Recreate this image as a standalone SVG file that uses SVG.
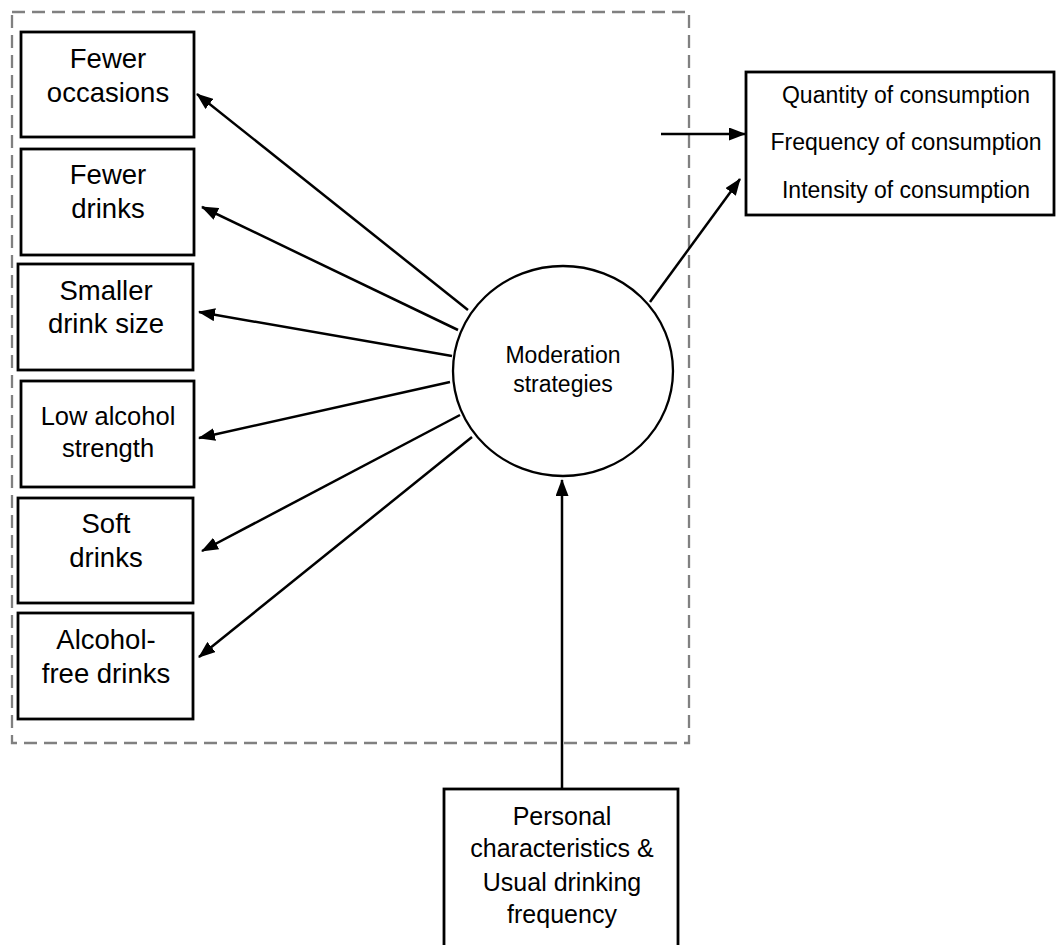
<svg xmlns="http://www.w3.org/2000/svg" width="1056" height="945" viewBox="0 0 1056 945">
<style>
.box{fill:#fff;stroke:#000;stroke-width:2.8}
.t{font-family:"Liberation Sans",Arial,sans-serif;fill:#000;text-anchor:middle}
.c{stroke:#000;stroke-width:2.5;fill:none;marker-end:url(#ah)}
</style>
<defs>
<marker id="ah" markerUnits="userSpaceOnUse" markerWidth="17" markerHeight="13" refX="16" refY="6.5" orient="auto">
<path d="M0,0 L17,6.5 L0,13 z" fill="#000"/>
</marker>
</defs>
<rect x="0" y="0" width="1056" height="945" fill="#fff"/>
<rect id="group-frame" x="12" y="12" width="677" height="731" fill="none" stroke="#808080" stroke-width="2.3" stroke-dasharray="13 7"/>
<g id="n-fewer-occasions"><rect class="box" x="21" y="32" width="173" height="105"/><text class="t" font-size="27.5" x="108" y="68">Fewer</text><text class="t" font-size="27.5" x="108" y="102">occasions</text></g>
<g id="n-fewer-drinks"><rect class="box" x="21" y="149" width="173" height="106"/><text class="t" font-size="27.5" x="108" y="184">Fewer</text><text class="t" font-size="27.5" x="108" y="218">drinks</text></g>
<g id="n-smaller"><rect class="box" x="18" y="264" width="175" height="106"/><text class="t" font-size="27.5" x="106" y="300">Smaller</text><text class="t" font-size="27.5" x="106" y="333">drink size</text></g>
<g id="n-low-alcohol"><rect class="box" x="21" y="381" width="173" height="106"/><text class="t" font-size="25.5" x="108" y="425">Low alcohol</text><text class="t" font-size="25.5" x="108" y="457">strength</text></g>
<g id="n-soft"><rect class="box" x="18" y="498" width="175" height="105"/><text class="t" font-size="27.5" x="106" y="533">Soft</text><text class="t" font-size="27.5" x="106" y="567">drinks</text></g>
<g id="n-alcohol-free"><rect class="box" x="18" y="613" width="175" height="106"/><text class="t" font-size="27.5" x="106" y="649">Alcohol-</text><text class="t" font-size="27.5" x="106" y="683">free drinks</text></g>
<g id="n-moderation"><ellipse cx="563" cy="371" rx="110" ry="105" fill="#fff" stroke="#000" stroke-width="2.3"/><text class="t" font-size="23" x="563" y="363">Moderation</text><text class="t" font-size="23" x="563" y="392">strategies</text></g>
<g id="n-consumption"><rect class="box" x="746" y="72" width="308" height="143"/><text class="t" font-size="23" x="906" y="103">Quantity of consumption</text><text class="t" font-size="23" x="906" y="150">Frequency of consumption</text><text class="t" font-size="23" x="906" y="198">Intensity of consumption</text></g>
<g id="n-personal"><rect class="box" x="444" y="789" width="234" height="170"/><text class="t" font-size="25" x="562" y="825">Personal</text><text class="t" font-size="25" x="562" y="857">characteristics &amp;</text><text class="t" font-size="25" x="562" y="891">Usual drinking</text><text class="t" font-size="25" x="562" y="923">frequency</text></g>
<g id="connectors">
<line class="c" x1="468" y1="310" x2="197" y2="94"/>
<line class="c" x1="458" y1="330" x2="202" y2="207"/>
<line class="c" x1="452" y1="356" x2="199" y2="312"/>
<line class="c" x1="450" y1="382" x2="199" y2="438"/>
<line class="c" x1="460" y1="415" x2="202" y2="551"/>
<line class="c" x1="472" y1="437" x2="199" y2="657"/>
<line class="c" x1="650" y1="302" x2="740" y2="179"/>
<line class="c" x1="661" y1="134" x2="745" y2="134"/>
<line class="c" x1="562" y1="789" x2="562" y2="480"/>
</g>
</svg>
